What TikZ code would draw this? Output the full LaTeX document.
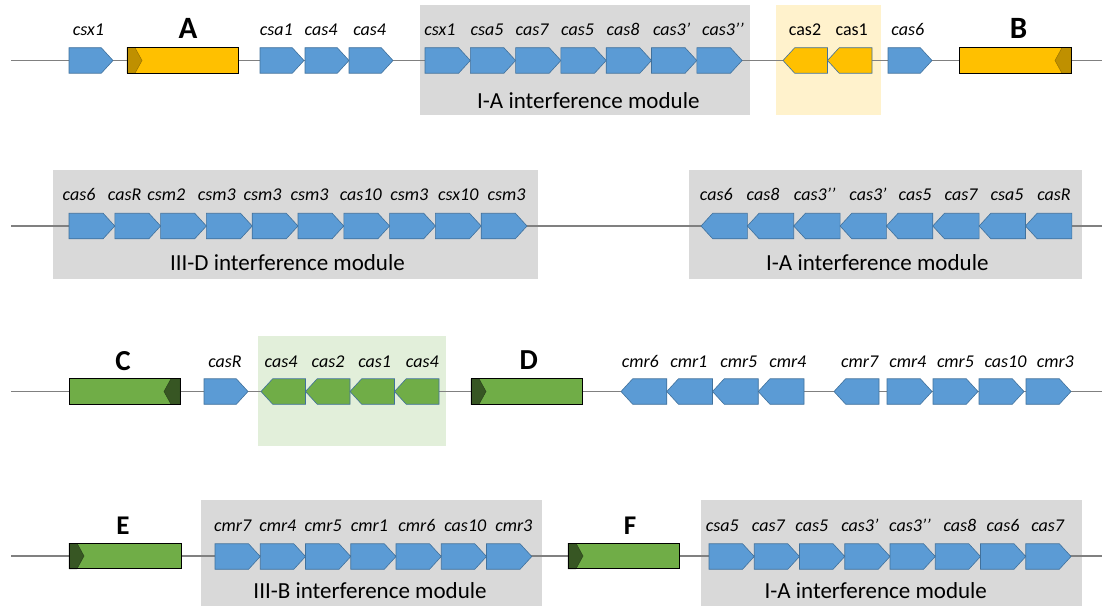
\documentclass[tikz,border=0pt]{standalone}
\usepackage{fontspec}
\setmainfont{Carlito}
\usetikzlibrary{shapes.symbols,calc}
\definecolor{gblue}{HTML}{5B9BD5}
\definecolor{gbord}{HTML}{41719C}
\definecolor{gold}{HTML}{FFC000}
\definecolor{golddk}{HTML}{BF9000}
\definecolor{grn}{HTML}{70AD47}
\definecolor{grndk}{HTML}{375623}
\definecolor{modgrey}{HTML}{D9D9D9}
\definecolor{ltyel}{HTML}{FFF2CC}
\definecolor{ltgrn}{HTML}{E2EFDA}
\definecolor{bbone}{HTML}{808080}
\tikzset{
  gene/.style={signal, signal pointer angle=95, minimum height=25.5pt, inner sep=0pt, outer sep=0pt, draw=gbord, line width=0.6pt, anchor=west},
  gR/.style={gene, signal to=east, fill=gblue},
  gL/.style={gene, signal to=west, fill=gblue},
  gYL/.style={gene, signal to=west, fill=gold},
  gGL/.style={gene, signal to=west, fill=grn},
  lbl/.style={anchor=base, inner sep=0pt, font=\fontsize{18}{18}\selectfont\itshape},
  lblu/.style={anchor=base, inner sep=0pt, font=\fontsize{18}{18}\selectfont},
  modlbl/.style={anchor=base, inner sep=0pt, font=\fontsize{23}{23}\selectfont},
  letA/.style={anchor=base, inner sep=0pt, font=\fontsize{31}{31}\selectfont\bfseries},
  letC/.style={anchor=base, inner sep=0pt, font=\fontsize{29}{29}\selectfont\bfseries},
  letE/.style={anchor=base, inner sep=0pt, font=\fontsize{27}{27}\selectfont\bfseries},
  modbox/.style={fill=modgrey, inner sep=0pt, outer sep=0pt},
  bigbox/.style={draw=black, line width=0.8pt, minimum height=25.5pt, inner sep=0pt, outer sep=0pt},
  bbline/.style={draw=bbone, line width=1.2pt},
}
% #1 label style, #2 prefix, #3 gene style, #4 y centre, #5 width, #6 label baseline, #7 list leftx/labelx/text
\newcommand{\generow}[7][lbl]{%
  \foreach \gx/\lx/\tx [count=\i] in {#7} {%
    \node[#3, minimum width=#5pt] (#2\i) at (\gx,#4) {};
    \node[#1] (#2t\i) at (\lx,#6) {\tx};
  }}
\newcommand{\darkleft}[2]{%
  \filldraw[fill=#2, draw=#2!80!black, line width=0.5pt] (#1.north west) -- ($(#1.north west)+(8,0)$) -- ($(#1.west)+(15,0)$) -- ($(#1.south west)+(8,0)$) -- (#1.south west) -- cycle;
  \draw[black, line width=0.8pt] (#1.south west) rectangle (#1.north east);}
\newcommand{\darkright}[2]{%
  \filldraw[fill=#2, draw=#2!80!black, line width=0.5pt] (#1.north east) -- ($(#1.north east)+(-9,0)$) -- ($(#1.east)+(-16,0)$) -- ($(#1.south east)+(-9,0)$) -- (#1.south east) -- cycle;
  \draw[black, line width=0.8pt] (#1.south west) rectangle (#1.north east);}
\begin{document}
\begin{tikzpicture}[x=1pt, y=-1pt]
\useasboundingbox (0,0) rectangle (1102,607);
% ---------- module backgrounds ----------
\node[modbox, minimum width=330pt, minimum height=110.5pt] (M1) at (585,60.25) {};
\node[modbox, fill=ltyel, minimum width=105pt, minimum height=110.5pt] (Y1) at (828.5,60.25) {};
\node[modbox, minimum width=485pt, minimum height=109pt] (M2a) at (295.5,224.5) {};
\node[modbox, minimum width=393pt, minimum height=109pt] (M2b) at (885.5,224.5) {};
\node[modbox, fill=ltgrn, minimum width=188pt, minimum height=110pt] (G3) at (352,391) {};
\node[modbox, minimum width=341pt, minimum height=106pt] (M4a) at (371.5,553) {};
\node[modbox, minimum width=381pt, minimum height=106pt] (M4b) at (891.5,553) {};
% ---------- backbones ----------
\coordinate (L1a) at (11,60.5);  \coordinate (L1b) at (1102,60.5);
\coordinate (L2a) at (11,226);   \coordinate (L2b) at (1102,226);
\coordinate (L3a) at (11,391.5); \coordinate (L3b) at (1102,391.5);
\coordinate (L4a) at (11,556);   \coordinate (L4b) at (1102,556);
\draw[bbline] (L1a) -- (L1b);
\draw[bbline] (L2a) -- (L2b);
\draw[bbline] (L3a) -- (L3b);
\draw[bbline] (L4a) -- (L4b);
% ---------- row 1 ----------
\generow{ra}{gR}{60.5}{44}{36}{69/88.5/csx1}
\node[bigbox, fill=gold, minimum width=111pt] (A) at (182.5,60.5) {};
\darkleft{A}{golddk}
\node[letA] (At) at (188,38.5) {A};
\generow{rb}{gR}{60.5}{44}{36}{260/276.3/csa1, 305/321/cas4, 349/369.7/cas4}
\generow{rc}{gR}{60.5}{45.3}{36}{425/440/csx1, 470.3/487/csa5, 515.6/532/cas7, 560.9/577.5/cas5, 606.2/623/cas8, 651.5/671.7/cas3’, 696.8/723/cas3’’}
\node[modlbl] (M1t) at (588.3,109) {I-A interference module};
\generow[lblu]{rd}{gYL}{60.5}{44.5}{36}{783/805/cas2, 827.5/851.7/cas1}
\generow{re}{gR}{60.5}{44}{36}{888/907.8/cas6}
\node[bigbox, fill=gold, minimum width=112pt] (B) at (1015,60.5) {};
\darkright{B}{golddk}
\node[letA] (Bt) at (1018.5,38.5) {B};
% ---------- row 2 ----------
\generow{sa}{gR}{226}{45.8}{200.5}{69/79/cas6, 114.8/124.7/casR, 160.6/166.3/csm2, 206.4/216.7/csm3, 252.2/262.6/csm3, 298/309.5/csm3, 343.8/360.7/cas10, 389.6/409.3/csm3, 435.4/458.2/csx10, 481.2/506.5/csm3}
\node[modlbl] (M2at) at (287.4,270) {III-D interference module};
\generow{sb}{gL}{226}{46.35}{200.5}{701/716.3/cas6, 747.35/763/cas8, 793.7/814.8/cas3’’, 840.05/868/cas3’, 886.4/915/cas5, 932.75/961/cas7, 979.1/1007/csa5, 1025.45/1054/casR}
\node[modlbl] (M2bt) at (877.3,270) {I-A interference module};
% ---------- row 3 ----------
\node[bigbox, fill=grn, minimum width=111pt] (C) at (124.5,391.5) {};
\darkright{C}{grndk}
\node[letC] (Ct) at (123,370.5) {C};
\generow{ta}{gR}{391.5}{44}{367}{204/225/casR}
\generow{tb}{gGL}{391.5}{44.5}{367}{261/281/cas4, 305.5/328/cas2, 350/374.7/cas1, 394.5/422.3/cas4}
\node[bigbox, fill=grn, minimum width=111pt] (D) at (526.5,391.5) {};
\darkleft{D}{grndk}
\node[letC] (Dt) at (528.7,369.5) {D};
\generow{tc}{gL}{391.5}{45.75}{367}{621/640.3/cmr6, 666.75/688.8/cmr1, 712.5/738.8/cmr5, 758.25/787.8/cmr4}
\generow{td}{gL}{391.5}{45}{367}{834/859.7/cmr7}
\generow{te}{gR}{391.5}{45}{367}{887/907.8/cmr4, 933/955.5/cmr5, 979/1005.5/cas10, 1026/1055.3/cmr3}
% ---------- row 4 ----------
\node[bigbox, fill=grn, minimum width=112pt] (E) at (125,556) {};
\darkleft{E}{grndk}
\node[letE] (Et) at (123,534.5) {E};
\generow{ua}{gR}{556.5}{45.25}{531}{215/232.7/cmr7, 260.25/277.8/cmr4, 305.5/323.2/cmr5, 350.75/369.5/cmr1, 396/417/cmr6, 441.25/465.3/cas10, 486.5/513.8/cmr3}
\node[modlbl] (M4at) at (370,598) {III-B interference module};
\node[bigbox, fill=grn, minimum width=111pt] (F) at (623.5,556) {};
\darkleft{F}{grndk}
\node[letE] (Ft) at (630,534.5) {F};
\generow{ub}{gR}{556.5}{45.25}{531}{709/722.2/csa5, 754.25/768.3/cas7, 799.5/811.8/cas5, 844.75/859.9/cas3’, 890/910/cas3’’, 935.25/959.9/cas8, 980.5/1003/cas6, 1025.75/1047.7/cas7}
\node[modlbl] (M4bt) at (875.7,598) {I-A interference module};
\end{tikzpicture}
\end{document}
